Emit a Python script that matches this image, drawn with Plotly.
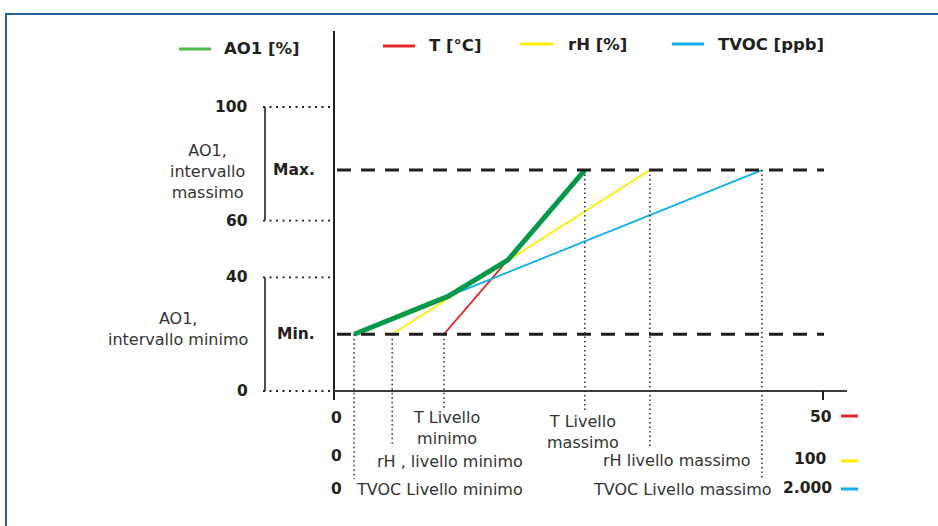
import plotly.graph_objects as go

# ---------------- data (x in % of sensor full scale, y in % of AO1) ----------------
SERIES = ["T [°C]", "rH [%]", "TVOC [ppb]"]
FULL_SCALE_LABELS = ["50", "100", "2.000"]
T_X = [22.5, 51.3]
T_Y = [20, 77.8]
RH_X = [11.9, 64.6]
RH_Y = [20, 77.8]
TVOC_X = [4.1, 87.5]
TVOC_Y = [20, 77.8]
AO1_X = [4.1, 23.3, 35.6, 51.3]
AO1_Y = [20, 33.3, 46.2, 77.8]
MIN_LEVEL = 20
MAX_LEVEL = 77.8
Y_TICKS = [0, 40, 60, 100]
Y_TICK_LABELS = ["0", "40", "60", "100"]

# ---------------- layout geometry ----------------
W, H = 938, 526
PX_X0, PX_X100 = 334, 823     # pixel of x=0 and x=100
PX_Y0, PX_Y100 = 391, 107     # pixel of y=0 and y=100
sx = (PX_X100 - PX_X0) / 100.0
sy = (PX_Y0 - PX_Y100) / 100.0
XR = [-PX_X0 / sx, (W - PX_X0) / sx]
YR = [-(H - PX_Y0) / sy, PX_Y0 / sy]

def dx(px):  # pixel -> data x
    return (px - PX_X0) / sx

def dy(py):  # pixel -> data y
    return (PX_Y0 - py) / sy

def pxp(px):
    return px / W

def pyp(py):
    return 1 - py / H

RED, YELLOW, BLUE = "#e3262b", "#ffec00", "#12adeb"
GREEN, GREEN_LEG = "#04994a", "#4cb84a"
DARK = "#231f20"
GREY_TXT = "#333333"
FONT = "DejaVu Sans"

fig = go.Figure()

for xs, ys, c in [(T_X, T_Y, RED), (RH_X, RH_Y, YELLOW), (TVOC_X, TVOC_Y, BLUE)]:
    fig.add_trace(go.Scatter(x=xs, y=ys, mode="lines",
                             line=dict(color=c, width=1.8), hoverinfo="skip"))
fig.add_trace(go.Scatter(x=AO1_X, y=AO1_Y, mode="lines",
                         line=dict(color=GREEN, width=5), hoverinfo="skip"))

shapes = []
# page border (top + left)
shapes.append(dict(type="path", xref="paper", yref="paper",
                   path=f"M {pxp(6)} {pyp(526)} L {pxp(6)} {pyp(14)} L {pxp(938)} {pyp(14)}",
                   line=dict(color="#1f62a0", width=2)))
# axes
shapes.append(dict(type="line", xref="x", yref="y", x0=0, x1=0, y0=dy(400), y1=dy(31),
                   line=dict(color=DARK, width=2)))
shapes.append(dict(type="line", xref="x", yref="y", x0=0, x1=dx(847), y0=0, y1=0,
                   line=dict(color="#3c3c3c", width=2)))
shapes.append(dict(type="line", xref="x", yref="y", x0=100, x1=100, y0=0, y1=dy(400),
                   line=dict(color=DARK, width=2)))
# min / max dashed levels
for lv in [MIN_LEVEL, MAX_LEVEL]:
    shapes.append(dict(type="line", xref="x", yref="y", x0=dx(337), x1=dx(824), y0=lv, y1=lv,
                       line=dict(color=DARK, width=3, dash="14px,10px")))
# dotted horizontal guides at y ticks
for v in Y_TICKS:
    shapes.append(dict(type="line", xref="x", yref="y", x0=dx(263), x1=0, y0=v, y1=v,
                       line=dict(color=DARK, width=1.8, dash="2px,4.5px")))
# brackets
for a, b in [(100, 60), (40, 0)]:
    shapes.append(dict(type="line", xref="x", yref="y", x0=dx(265), x1=dx(265), y0=a, y1=b,
                       line=dict(color=DARK, width=1.6)))
# vertical dotted drops from each series start / end
drops = [(T_X[0], T_Y[0], 411), (RH_X[0], RH_Y[0], 447), (TVOC_X[0], TVOC_Y[0], 479),
         (T_X[1], T_Y[1], 412), (RH_X[1], RH_Y[1], 447), (TVOC_X[1], TVOC_Y[1], 478)]
for x, y, pb in drops:
    shapes.append(dict(type="line", xref="x", yref="y", x0=x, x1=x, y0=y, y1=dy(pb),
                       line=dict(color="#2a2a2a", width=1.5, dash="1.5px,3px")))
# legend swatches (top)
for (x0, x1, y), c in zip([(179, 211, 49), (383, 415, 46), (520, 553, 44), (672, 704, 44)],
                          [GREEN_LEG, RED, YELLOW, BLUE]):
    shapes.append(dict(type="line", xref="paper", yref="paper", x0=pxp(x0), x1=pxp(x1),
                       y0=pyp(y), y1=pyp(y), line=dict(color=c, width=3)))
# full-scale swatches (bottom right)
for y, c in zip([416, 461, 489], [RED, YELLOW, BLUE]):
    shapes.append(dict(type="line", xref="paper", yref="paper", x0=pxp(841), x1=pxp(858),
                       y0=pyp(y), y1=pyp(y), line=dict(color=c, width=3)))

ann = []

def txt(text, x, y, xanchor="left", bold=False, size=None, color=None, xref="paper", yref="paper"):
    ann.append(dict(text=f"<b>{text}</b>" if bold else text,
                    x=x, y=y, xref=xref, yref=yref, xanchor=xanchor, yanchor="middle",
                    showarrow=False, align="center",
                    font=dict(family=FONT, size=size or (15.5 if bold else 16),
                              color=color or (DARK if bold else GREY_TXT))))

# top legend texts
txt("AO1 [%]", pxp(222), pyp(49), bold=True, size=16.5)
for s, (x, y) in zip(SERIES, [(427, 46), (566, 44), (716, 44)]):
    txt(s, pxp(x), pyp(y), bold=True, size=16.5)
# y tick labels
for v, lab in zip(Y_TICKS, Y_TICK_LABELS):
    txt(lab, pxp(250), v, xanchor="right", bold=True, yref="y")
txt("Max.", pxp(317), MAX_LEVEL, xanchor="right", bold=True, yref="y")
txt("Min.", pxp(317), MIN_LEVEL, xanchor="right", bold=True, yref="y")
txt("AO1,<br>intervallo<br>massimo", pxp(207), pyp(171), xanchor="center")
txt("AO1,<br>intervallo minimo", pxp(178), pyp(329), xanchor="center")
# x zero labels
for y in [418, 456, 489]:
    txt("0", pxp(336), pyp(y), xanchor="center", bold=True)
txt("T Livello<br>minimo", pxp(446), pyp(428), xanchor="center")
txt("rH , livello minimo", pxp(375), pyp(461))
txt("TVOC Livello minimo", pxp(354), pyp(489))
txt("T Livello<br>massimo", pxp(583), pyp(432), xanchor="center")
txt("rH livello massimo", pxp(601), pyp(460))
txt("TVOC Livello massimo", pxp(591), pyp(489))
for lab, (x, y) in zip(FULL_SCALE_LABELS, [(834, 417), (829, 459), (834, 488)]):
    txt(lab, pxp(x), pyp(y), xanchor="right", bold=True)

fig.update_layout(
    width=W, height=H, margin=dict(l=0, r=0, t=0, b=0),
    paper_bgcolor="white", plot_bgcolor="white",
    showlegend=False, hovermode=False,
    xaxis=dict(range=XR, visible=False, domain=[0, 1], fixedrange=True),
    yaxis=dict(range=YR, visible=False, domain=[0, 1], fixedrange=True),
    shapes=shapes, annotations=ann,
)

fig.write_html("out.html", config={"displayModeBar": False},
               post_script="document.body.style.margin='0';document.body.style.overflow='hidden';")
